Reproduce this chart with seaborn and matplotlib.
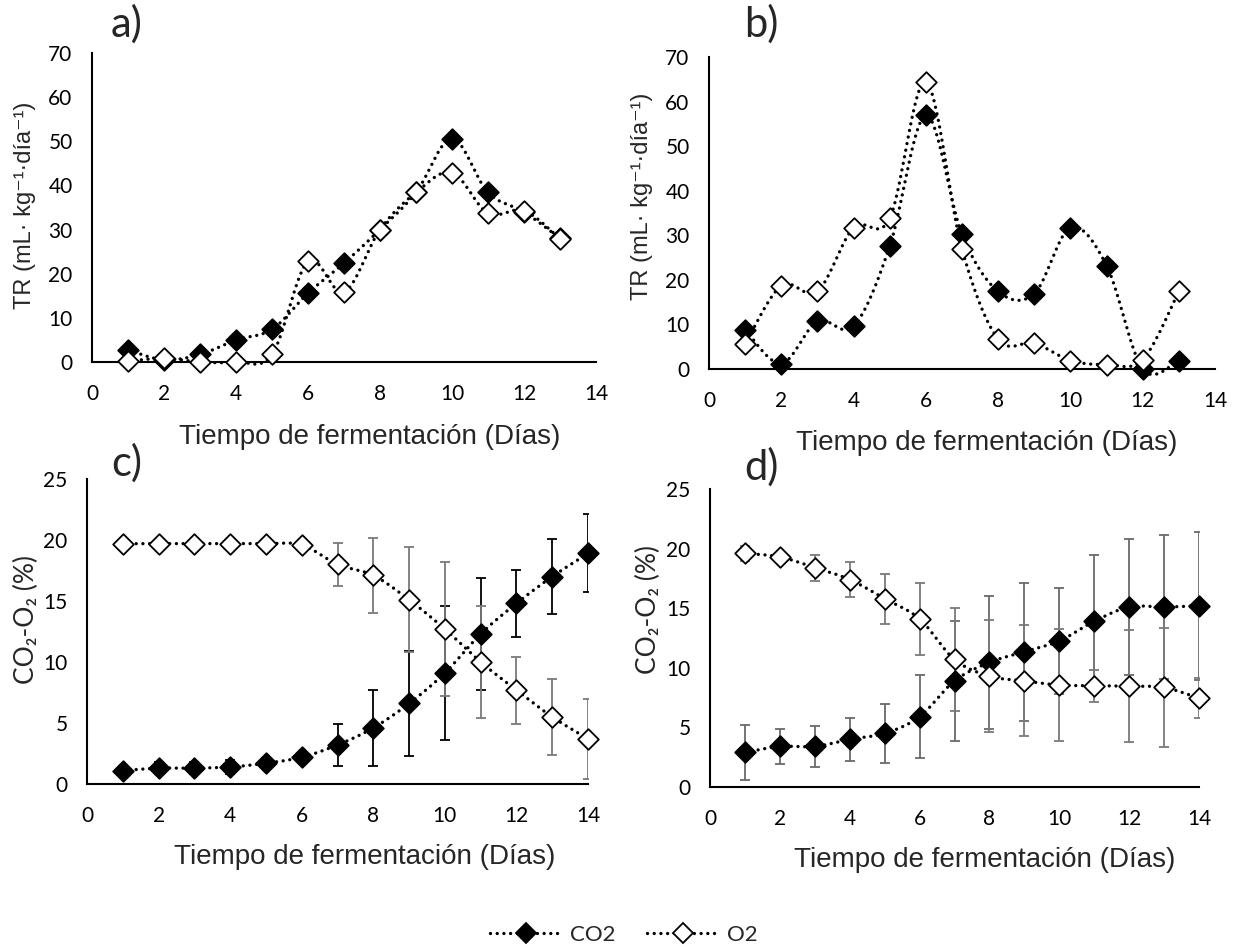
import numpy as np
import pandas as pd
import matplotlib
matplotlib.use("Agg")
import matplotlib.pyplot as plt
from matplotlib.lines import Line2D
import seaborn as sns

# ---------------- data ----------------
days_ab = [1, 2, 3, 4, 5, 6, 7, 8, 9, 10, 11, 12, 13]
a_co2 = [2.7, 0.5, 1.7, 5.0, 7.4, 15.6, 22.4, 30.0, 38.4, 50.6, 38.4, 34.0, 28.0]
a_o2 = [0.2, 0.8, 0.0, 0.0, 1.7, 22.8, 15.8, 30.0, 38.4, 42.9, 33.7, 34.3, 27.9]
b_co2 = [8.8, 1.2, 10.7, 9.6, 27.5, 56.9, 30.2, 17.4, 16.9, 31.7, 23.2, 0.0, 1.9]
b_o2 = [5.6, 18.7, 17.4, 31.7, 33.8, 64.4, 26.9, 6.7, 5.8, 1.9, 1.0, 2.1, 17.4]

days_cd = [1, 2, 3, 4, 5, 6, 7, 8, 9, 10, 11, 12, 13, 14]
c_co2 = [1.1, 1.3, 1.3, 1.4, 1.7, 2.2, 3.2, 4.6, 6.6, 9.1, 12.3, 14.8, 17.0, 18.9]
c_co2_err = [0.0, 0.5, 0.5, 0.6, 0.4, 0.3, 1.75, 3.1, 4.3, 5.5, 4.6, 2.75, 3.1, 3.2]
c_o2 = [19.7, 19.7, 19.7, 19.7, 19.7, 19.6, 18.0, 17.1, 15.1, 12.7, 10.0, 7.7, 5.5, 3.7]
c_o2_err = [0.2, 0.3, 0.3, 0.4, 0.3, 0.3, 1.75, 3.1, 4.3, 5.5, 4.6, 2.75, 3.1, 3.25]

d_co2 = [2.9, 3.4, 3.4, 4.0, 4.5, 5.9, 8.9, 10.45, 11.35, 12.25, 13.9, 15.1, 15.1, 15.2]
d_co2_err = [2.3, 1.5, 1.75, 1.8, 2.5, 3.5, 5.0, 5.6, 5.8, 4.45, 5.55, 5.7, 6.05, 6.2]
d_o2 = [19.6, 19.3, 18.4, 17.4, 15.8, 14.1, 10.7, 9.3, 8.9, 8.55, 8.5, 8.45, 8.35, 7.45]
d_o2_err = [0.65, 0.3, 1.1, 1.45, 2.1, 3.05, 4.3, 4.7, 4.65, 4.7, 1.35, 4.7, 5.0, 1.7]

x_ticks = [0, 2, 4, 6, 8, 10, 12, 14]
tr_ticks = [0, 10, 20, 30, 40, 50, 60, 70]
gas_ticks = [0, 5, 10, 15, 20, 25]
panel_letters = ["a)", "b)", "c)", "d)"]
xlabel_text = "Tiempo de fermentación (Días)"
tr_label = "TR (mL· kg⁻¹·día⁻¹)"
gas_label = "CO₂-O₂ (%)"
series_names = ["CO2", "O2"]

# ---------------- style ----------------
sns.set_style("white")
plt.rcParams["font.family"] = ["Lato", "DejaVu Sans"]
ARIAL = ["Liberation Sans", "DejaVu Sans"]
CAL = ["Lato", "DejaVu Sans"]

W, H = 1235, 952
fig = plt.figure(figsize=(W / 100, H / 100), dpi=100)


def frac_axes(left, right, bottom, top):
    return fig.add_axes([left / W, 1 - bottom / H, (right - left) / W, (bottom - top) / H])


def smooth(xs, ys, n=30):
    # Catmull-Rom style Bezier smoothing (Excel "smoothed line" look)
    P = np.column_stack([xs, ys]).astype(float)
    out = []
    m = len(P)
    for i in range(m - 1):
        p0 = P[i - 1] if i > 0 else P[i]
        p1 = P[i]
        p2 = P[i + 1]
        p3 = P[i + 2] if i + 2 < m else P[i + 1]
        c1 = p1 + (p2 - p0) / 6.0
        c2 = p2 - (p3 - p1) / 6.0
        t = np.linspace(0, 1, n, endpoint=(i == m - 2))[:, None]
        seg = ((1 - t) ** 3) * p1 + 3 * ((1 - t) ** 2) * t * c1 + 3 * (1 - t) * t ** 2 * c2 + t ** 3 * p2
        out.append(seg)
    out = np.vstack(out)
    return out[:, 0], out[:, 1]


DOT = (0, (0.01, 2.0))


def draw_series(ax, xs, ys, filled):
    sx, sy = smooth(xs, ys)
    df = pd.DataFrame({"x": sx, "y": sy})
    sns.lineplot(data=df, x="x", y="y", ax=ax, sort=False, estimator=None,
                 color="black", lw=2.4, linestyle=DOT, dash_capstyle="round",
                 zorder=3, clip_on=False)
    sns.scatterplot(x=xs, y=ys, ax=ax, marker="D", s=110,
                    color="black" if filled else "white", edgecolor="black",
                    linewidth=1.3, zorder=5, clip_on=False)


def style_axes(ax, ymax, yticks):
    ax.set_xlim(0, 14)
    ax.set_ylim(0, ymax)
    ax.set_xticks(x_ticks)
    ax.set_yticks(yticks)
    ax.tick_params(axis="both", length=0, labelsize=15, colors="black")
    ax.tick_params(axis="x", pad=16)
    ax.tick_params(axis="y", pad=14)
    for s in ["top", "right"]:
        ax.spines[s].set_visible(False)
    for s in ["left", "bottom"]:
        ax.spines[s].set_color("black")
        ax.spines[s].set_linewidth(1.5)
    ax.set_xlabel("")
    ax.set_ylabel("")
    ax.grid(False)
    ax.set_facecolor("none")


# axes geometry (pixels)
ax_a = frac_axes(92, 596, 362, 53)
ax_b = frac_axes(709, 1215, 369, 57)
ax_c = frac_axes(87, 588, 784, 479)
ax_d = frac_axes(710, 1199, 787, 489)

# panel a
draw_series(ax_a, days_ab, a_co2, True)
draw_series(ax_a, days_ab, a_o2, False)
style_axes(ax_a, 70, tr_ticks)

# panel b
draw_series(ax_b, days_ab, b_co2, True)
draw_series(ax_b, days_ab, b_o2, False)
style_axes(ax_b, 70, tr_ticks)

# panel c
ax_c.errorbar(days_cd, c_co2, yerr=c_co2_err, fmt="none", ecolor="black",
              elinewidth=1.3, capsize=3.3, capthick=1.3, zorder=2)
ax_c.errorbar(days_cd, c_o2, yerr=c_o2_err, fmt="none", ecolor="#7a7a7a",
              elinewidth=1.3, capsize=3.3, capthick=1.3, zorder=2)
draw_series(ax_c, days_cd, c_co2, True)
draw_series(ax_c, days_cd, c_o2, False)
style_axes(ax_c, 25, gas_ticks)

# panel d
ax_d.errorbar(days_cd, d_co2, yerr=d_co2_err, fmt="none", ecolor="#6a6a6a",
              elinewidth=1.3, capsize=3.3, capthick=1.3, zorder=2)
ax_d.errorbar(days_cd, d_o2, yerr=d_o2_err, fmt="none", ecolor="#7a7a7a",
              elinewidth=1.3, capsize=3.3, capthick=1.3, zorder=2)
draw_series(ax_d, days_cd, d_co2, True)
draw_series(ax_d, days_cd, d_o2, False)
style_axes(ax_d, 25, gas_ticks)


def ftext(px, py, s, **kw):
    fig.text(px / W, 1 - py / H, s, **kw)


# panel letters
for (px, py), letter in zip([(111, 4), (744, 4), (111, 443), (744, 447)], panel_letters):
    ftext(px, py, letter, ha="left", va="top", fontsize=30, family=CAL)

# x-axis titles
for (px, py) in [(370, 437), (987, 443), (365, 857), (985, 860)]:
    ftext(px, py, xlabel_text, ha="center", va="center", fontsize=20, family=ARIAL)

# y-axis titles
ftext(25, 205, tr_label, ha="center", va="center", rotation=90, fontsize=17, family=ARIAL)
ftext(642, 196, tr_label, ha="center", va="center", rotation=90, fontsize=17, family=ARIAL)
ftext(26, 620, gas_label, ha="center", va="center", rotation=90, fontsize=19, family=CAL)
ftext(648, 610, gas_label, ha="center", va="center", rotation=90, fontsize=19, family=CAL)

# legend
handles = [
    Line2D([0], [0], color="black", lw=2.4, linestyle=DOT, dash_capstyle="round",
           marker="D", markersize=10, markerfacecolor="black", markeredgecolor="black",
           markeredgewidth=1.3),
    Line2D([0], [0], color="black", lw=2.4, linestyle=DOT, dash_capstyle="round",
           marker="D", markersize=10, markerfacecolor="white", markeredgecolor="black",
           markeredgewidth=1.3),
]
fig.legend(handles, series_names, loc="center", bbox_to_anchor=(624 / W, 1 - 935 / H),
           ncol=2, frameon=False, handlelength=3.2, columnspacing=1.4,
           handletextpad=0.4, prop={"family": CAL, "size": 16})

fig.savefig("out.png", dpi=100, facecolor="white")
